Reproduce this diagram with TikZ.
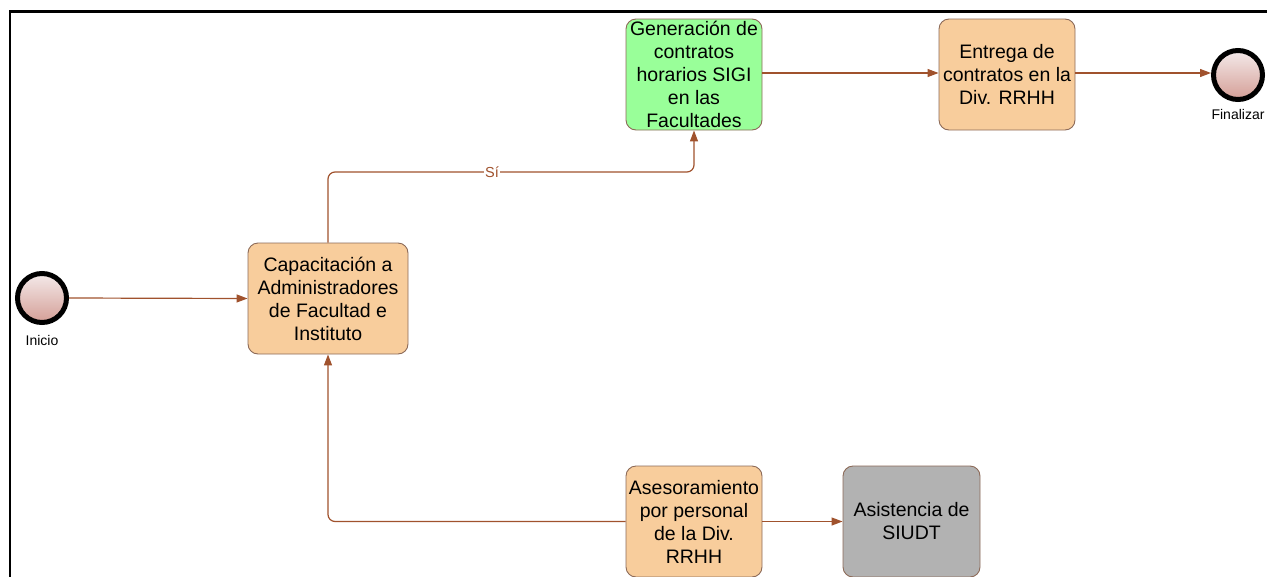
\documentclass[tikz,border=0pt]{standalone}
\usepackage{fontspec}
\setmainfont{Liberation Sans}
\usetikzlibrary{arrows.meta,positioning}
\definecolor{flow}{HTML}{A0522D}
\definecolor{taskfill}{HTML}{F8CD9C}
\definecolor{taskedge}{HTML}{8C6A58}
\definecolor{greenfill}{HTML}{99FF99}
\definecolor{grayfill}{HTML}{B2B2B2}
\definecolor{evtop}{HTML}{F4EAEA}
\definecolor{evbot}{HTML}{D49E96}
\tikzset{
  task/.style={draw=taskedge, line width=0.9pt, rounded corners=10pt,
    fill=taskfill, minimum width=160pt, minimum height=111pt,
    align=center, inner sep=1pt,
    font=\fontsize{19.5}{23}\selectfont},
  event/.style={circle, draw=black, line width=5pt,
    top color=evtop, bottom color=evbot, minimum size=49pt, inner sep=0pt},
  evlabel/.style={font=\fontsize{14}{16}\selectfont},
  flowline/.style={draw=flow, line width=1.2pt, rounded corners=7pt,
    -{Triangle[length=11pt,width=8pt]}},
}
\begin{document}
\begin{tikzpicture}[x=1pt,y=-1pt]
  \useasboundingbox (0,0) rectangle (1267,576);
  % frame edges
  \draw[line width=2.2pt, black] (10,580) -- (10,11.5) -- (1270,11.5);

  % events
  \node[event] (ini) at (42,298) {};
  \node[evlabel] (inil) at (42,340) {Inicio};
  \node[event] (fin) at (1238,75) {};
  \node[evlabel] (finl) at (1238,114) {Finalizar};

  % tasks
  \node[task] (cap) at (328,298.5) {Capacitación a\\Administradores\\de Facultad e\\Instituto};
  \node[task, fill=greenfill, minimum width=136pt] (gen) at (694,74.5)
    {Generación de\\contratos\\horarios SIGI\\en las\\Facultades};
  \node[task, minimum width=136pt] (ent) at (1007,74.5) {Entrega de\\contratos en la\\Div. RRHH};
  \node[task, minimum width=136pt] (ase) at (694,521.5) {Asesoramiento\\por personal\\de la Div.\\RRHH};
  \node[task, fill=grayfill, minimum width=137pt] (asi) at (911.5,521.5) {Asistencia de\\SIUDT};

  % sequence flows
  \draw[flowline] (ini.east) -- (cap.west);
  \draw[flowline] (cap.north) |- (500,172) -| (gen.south);
  \node[text=flow, fill=white, inner sep=1pt, font=\fontsize{14.5}{16}\selectfont] (si) at (492,172) {Sí};
  \draw[flowline] (gen.east |- 0,73) -- (ent.west |- 0,73);
  \draw[flowline] (ent.east |- 0,73) -- (fin.west |- 0,73);
  \draw[flowline] (ase.west) -| (cap.south);
  \draw[flowline] (ase.east) -- (asi.west);
\end{tikzpicture}
\end{document}
